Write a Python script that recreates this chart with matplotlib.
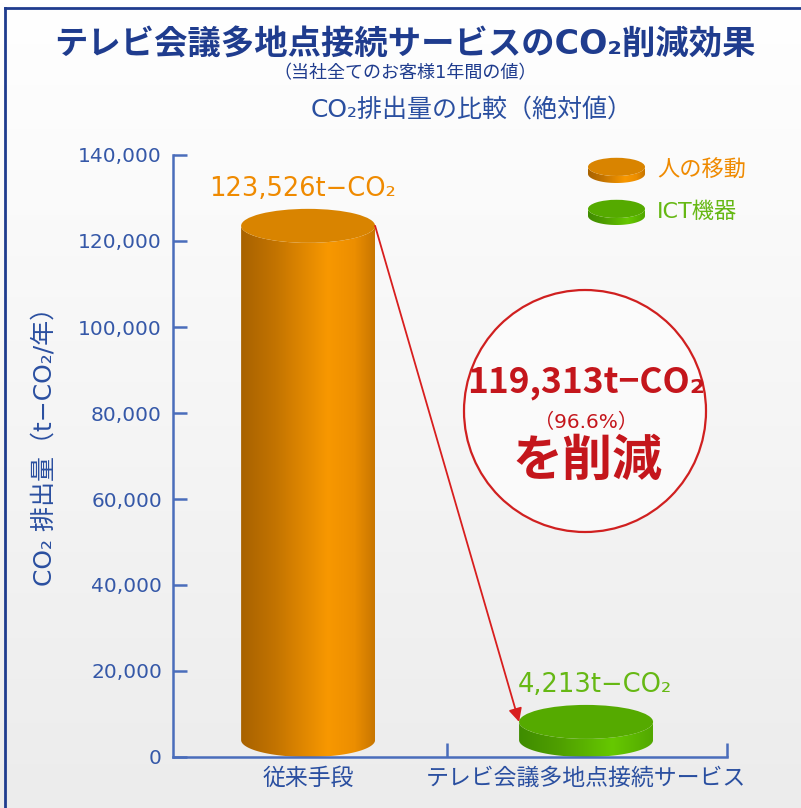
import numpy as np
import matplotlib
matplotlib.use("Agg")
import matplotlib.pyplot as plt
from matplotlib.colors import LinearSegmentedColormap
from matplotlib.patches import Polygon, Ellipse
from matplotlib.lines import Line2D

# data
categories = ['従来手段', 'テレビ会議多地点接続サービス']
series = ['人の移動', 'ICT機器']
emissions = [123526, 4213]
reduction = 119313
reduction_pct = 96.6
yticks = list(range(0, 140001, 20000))

plt.rcParams['font.family'] = ['DejaVu Sans', 'Noto Sans CJK JP']

W, H = 801, 808
fig = plt.figure(figsize=(W / 100, H / 100), dpi=100)

# light grey gradient background
bg = fig.add_axes([0, 0, 1, 1], zorder=-10)
bg.imshow(np.linspace(1, 0, 256).reshape(-1, 1), aspect='auto', extent=[0, 1, 0, 1],
          cmap=LinearSegmentedColormap.from_list('bg', ['#ececec', '#ffffff']))
bg.axis('off')

# frame border (top + left)
navy = '#1f3c8e'
fig.add_artist(Line2D([5 / W, 1], [1 - 8 / H, 1 - 8 / H], transform=fig.transFigure, color=navy, lw=2))
fig.add_artist(Line2D([5 / W, 5 / W], [0, 1 - 8 / H], transform=fig.transFigure, color=navy, lw=2))

blue = '#3558a8'
axis_blue = '#4a6dbb'
orange_txt = '#ef8a00'
green_txt = '#66b814'
red = '#c4161c'

orange_cmap = LinearSegmentedColormap.from_list(
    'or', [(0, '#a86200'), (0.25, '#c27300'), (0.65, '#f89800'), (0.85, '#ec8e00'), (1, '#c87600')])
green_cmap = LinearSegmentedColormap.from_list(
    'gr', [(0, '#3f8c00'), (0.3, '#4f9f00'), (0.7, '#66c800'), (1, '#52a800')])
cmaps = [orange_cmap, green_cmap]
top_colors = ['#d98400', '#55aa00']
text_colors = [orange_txt, green_txt]


def cylinder(ax, cx, bottom, top, rx, ry, cmap, top_color, z=2):
    t = np.linspace(0, np.pi, 80)
    xs = cx + rx * np.cos(t)
    lower = bottom - ry * np.sin(t)
    upper = top - ry * np.sin(t)
    verts = np.column_stack([np.r_[xs, xs[::-1]], np.r_[lower, upper[::-1]]])
    body = Polygon(verts, closed=True, fc='none', ec='none', zorder=z)
    ax.add_patch(body)
    im = ax.imshow(np.linspace(0, 1, 256).reshape(1, -1), cmap=cmap, aspect='auto',
                   extent=[cx - rx, cx + rx, bottom - ry, top], zorder=z)
    im.set_clip_path(body)
    ax.add_patch(Ellipse((cx, top), 2 * rx, 2 * ry, fc=top_color, ec='none', zorder=z + 1))


ax = fig.add_axes([173 / W, 1 - 757 / H, (727 - 173) / W, (757 - 155) / H])
ax.patch.set_alpha(0)

xlim = (-0.486, 1.507)
ylim = (0, 140000)
rx = 0.241
ry = 3950

x = np.arange(len(categories))
label_dx = [-4, 6]
tops = []
for i, v in enumerate(emissions):
    top = v if v > 4 * ry else ry + v
    tops.append(top)
    cylinder(ax, x[i], ry, top, rx, ry, cmaps[i], top_colors[i])
    ax.annotate(f'{v:,}t−CO₂', (x[i], top + ry), xytext=(label_dx[i], 5), textcoords='offset points',
                ha='center', va='bottom', fontsize=18.5, color=text_colors[i])

# reduction arrow
ax.annotate('', xy=(x[1] - rx, tops[1]), xytext=(x[0] + rx, tops[0]),
            arrowprops=dict(arrowstyle='-|>', color='#d81e1e', lw=1.3, mutation_scale=20,
                            shrinkA=0, shrinkB=0), zorder=5)

ax.set_xlim(*xlim)
ax.set_ylim(*ylim)

for s in ['top', 'right']:
    ax.spines[s].set_visible(False)
for s in ['left', 'bottom']:
    ax.spines[s].set_color(axis_blue)
    ax.spines[s].set_linewidth(1.8)

ax.set_yticks(yticks, labels=[f'{v:,}' for v in yticks])
ax.tick_params(axis='y', direction='in', length=10, width=1.8, color=axis_blue,
               labelsize=14.5, labelcolor=blue, pad=8)
ax.set_xticks([0.5, xlim[1]], labels=['', ''])
ax.tick_params(axis='x', which='major', direction='in', length=10, width=1.8, color=axis_blue)
ax.set_xticks(x, labels=categories, minor=True)
ax.tick_params(axis='x', which='minor', length=0, labelsize=16.5, labelcolor='#2a4fa0', pad=7)

# y label
fig.text(45 / W, 1 - 440 / H, 'CO₂ 排出量（t−CO₂/年）', rotation=90, ha='center', va='center',
         fontsize=18, color='#2a4fa0')

# titles
fig.text(405 / W, 1 - 45 / H, 'テレビ会議多地点接続サービスのCO₂削減効果', ha='center', va='center',
         fontsize=24, fontweight='bold', color=navy)
fig.text(405 / W, 1 - 73 / H, '（当社全てのお客様1年間の値）', ha='center', va='center',
         fontsize=13, color=navy)
fig.text(472 / W, 1 - 110 / H, 'CO₂排出量の比較（絶対値）', ha='center', va='center',
         fontsize=18, color='#2a4fa0')

# legend swatches
for i, name in enumerate(series):
    lax = fig.add_axes([588 / W, 1 - (183 + 42 * i) / H, 57 / W, 26 / H])
    lax.axis('off')
    cylinder(lax, 0.5, 0.35, 0.62, 0.5, 0.35, cmaps[i], top_colors[i])
    lax.set_xlim(0, 1)
    lax.set_ylim(0, 1)
    fig.text(657 / W, 1 - (170 + 42 * i) / H, name, ha='left', va='center', fontsize=16,
             color=text_colors[i])

# reduction circle
fig.add_artist(Ellipse((585 / W, 1 - 411 / H), 242 / W, 242 / H, transform=fig.transFigure,
                       fc='white', alpha=0.6, ec='none'))
fig.add_artist(Ellipse((585 / W, 1 - 411 / H), 242 / W, 242 / H, transform=fig.transFigure,
                       fc='none', ec='#d02020', lw=1.6))
fig.text(586 / W, 1 - 382 / H, f'{reduction:,}t−CO₂', ha='center', va='center', fontsize=25.5,
         fontweight='bold', color=red, family=['Noto Sans CJK JP', 'DejaVu Sans'])
fig.text(586 / W, 1 - 422 / H, f'（{reduction_pct}%）', ha='center', va='center', fontsize=14.5,
         color=red)
fig.text(587 / W, 1 - 461 / H, 'を削減', ha='center', va='center', fontsize=36,
         fontweight='bold', color=red, family=['Noto Sans CJK JP', 'DejaVu Sans'])

fig.savefig('out.png', dpi=100)
